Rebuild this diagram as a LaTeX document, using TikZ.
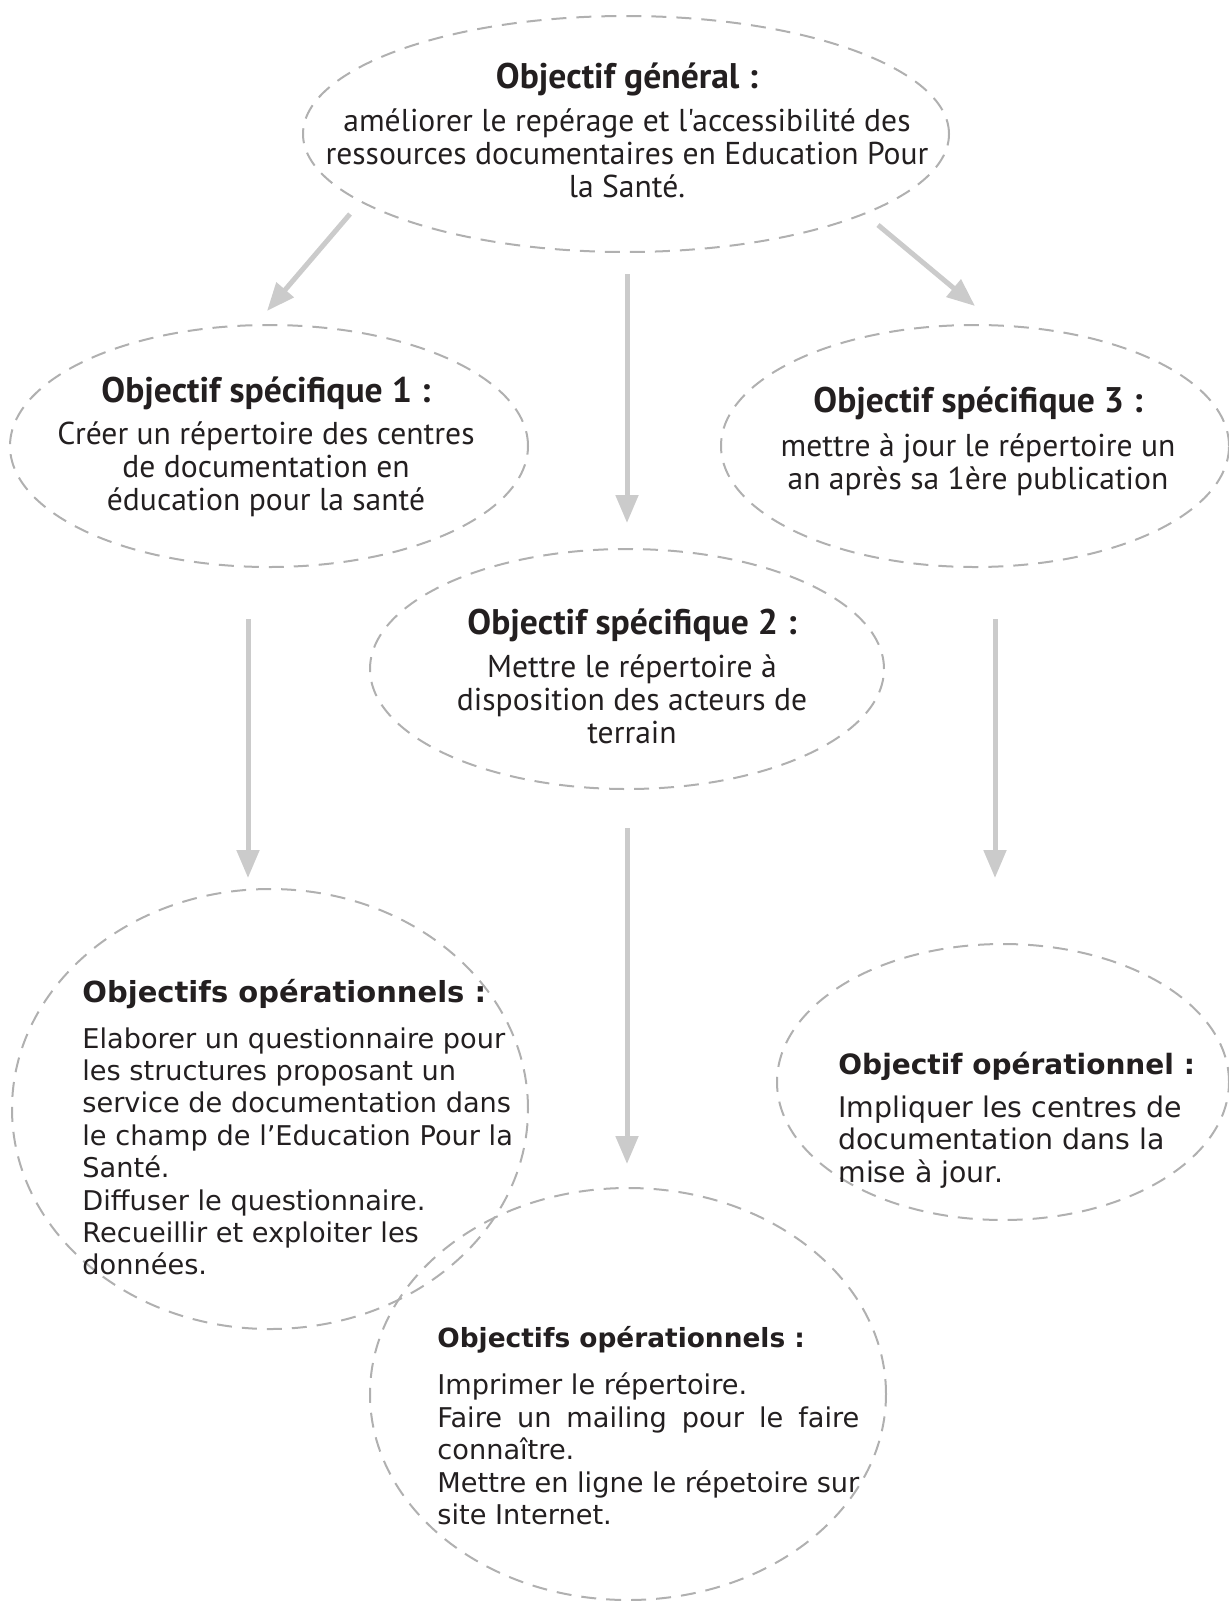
\documentclass[tikz,border=0pt]{standalone}
\usepackage{fontspec}
\setmainfont{DejaVu Sans}
\newfontfamily\condfont{PT Sans}
\usepackage{tikz}
\usetikzlibrary{shapes.geometric, arrows.meta}
\definecolor{ink}{HTML}{231f20}
\definecolor{dashline}{HTML}{b0b0b0}
\definecolor{arrowline}{HTML}{cbcbcb}

\begin{document}
\begin{tikzpicture}[x=0.5pt, y=-0.5pt,
  every node/.style={text=ink},
  bubble/.style={ellipse, draw=dashline, line width=1pt, dash pattern=on 7.5pt off 5pt, inner sep=0pt},
  flow/.style={draw=arrowline, line width=2.5pt, -{Triangle[length=14pt, width=11pt]}},
  headtext/.style={anchor=north, align=center, inner sep=0pt, font=\condfont\fontsize{15.8}{16.5}\selectfont},
  optext/.style={anchor=north west, align=left, inner sep=0pt, font=\fontsize{13.6}{16.2}\selectfont}]
  \useasboundingbox (0,0) rectangle (1229,1601);

  % dashed bubbles
  \node[bubble, minimum width=323pt, minimum height=118pt] (gen) at (626,134) {};
  \node[bubble, minimum width=259pt, minimum height=121pt] (spec1) at (269,446) {};
  \node[bubble, minimum width=257pt, minimum height=120pt] (spec2) at (627,669) {};
  \node[bubble, minimum width=254pt, minimum height=121pt] (spec3) at (975,446) {};
  \node[bubble, minimum width=258pt, minimum height=220pt] (oper1) at (270,1109) {};
  \node[bubble, minimum width=258pt, minimum height=206pt] (oper2) at (628,1394) {};
  \node[bubble, minimum width=226pt, minimum height=138pt] (oper3) at (1003,1082) {};

  % texts
  \newcommand\headline[1]{{\bfseries\fontsize{17.8}{18}\selectfont #1}}
  \newcommand\opline[2][14.5]{{\bfseries\fontsize{#1}{16}\selectfont #2}}
  \node[headtext] (gentxt) at (627,62) {\headline{Objectif général :}\\[5pt]
    améliorer le repérage et l'accessibilité des\\
    ressources documentaires en Education Pour\\
    la Santé.};
  \node[headtext] (spec1txt) at (266,376) {\headline{Objectif spécifique 1 :}\\[4.5pt]
    Créer un répertoire des centres\\
    de documentation en\\
    éducation pour la santé};
  \node[headtext] (spec2txt) at (632,608) {\headline{Objectif spécifique 2 :}\\[5pt]
    Mettre le répertoire à\\
    disposition des acteurs de\\
    terrain};
  \node[headtext] (spec3txt) at (978,386) {\headline{Objectif spécifique 3 :}\\[5.5pt]
    mettre à jour le répertoire un\\
    an après sa 1ère publication};

  \node[optext] (oper1txt) at (82,979) {\opline{Objectifs opérationnels :}\\[6.5pt]
    Elaborer un questionnaire pour\\
    les structures proposant un\\
    service de documentation dans\\
    le champ de l'Education Pour la\\
    Santé.\\
    Diffuser le questionnaire.\\
    Recueillir et exploiter les\\
    données.};
  \node[optext] (oper2txt) at (437,1326) {\opline[13.2]{Objectifs opérationnels :}\\[7.5pt]
    Imprimer le répertoire.\\
    \makebox[211pt][s]{Faire un mailing pour le faire}\\
    connaître.\\
    \makebox[211pt][s]{Mettre en ligne le répetoire sur}\\
    site Internet.};
  \node[optext, font=\fontsize{14.2}{16.2}\selectfont] (oper3txt) at (838,1052) {\opline[14]{Objectif opérationnel :}\\[5pt]
    Impliquer les centres de\\
    documentation dans la\\
    mise à jour.};

  % arrows
  \coordinate (gl) at (350,214);   \coordinate (s1n) at (267,311);
  \coordinate (gm) at (627,274);   \coordinate (s2n) at (627,523);
  \coordinate (gr) at (878,225);   \coordinate (s3n) at (975,306);
  \coordinate (s1s) at (248,619);  \coordinate (o1n) at (248,878);
  \coordinate (s2s) at (627,828);  \coordinate (o2n) at (627,1164);
  \coordinate (s3s) at (995,619);  \coordinate (o3n) at (995,878);
  \foreach \a/\b in {gl/s1n, gm/s2n, gr/s3n, s1s/o1n, s2s/o2n, s3s/o3n}
    \draw[flow] (\a) -- (\b);
\end{tikzpicture}
\end{document}
